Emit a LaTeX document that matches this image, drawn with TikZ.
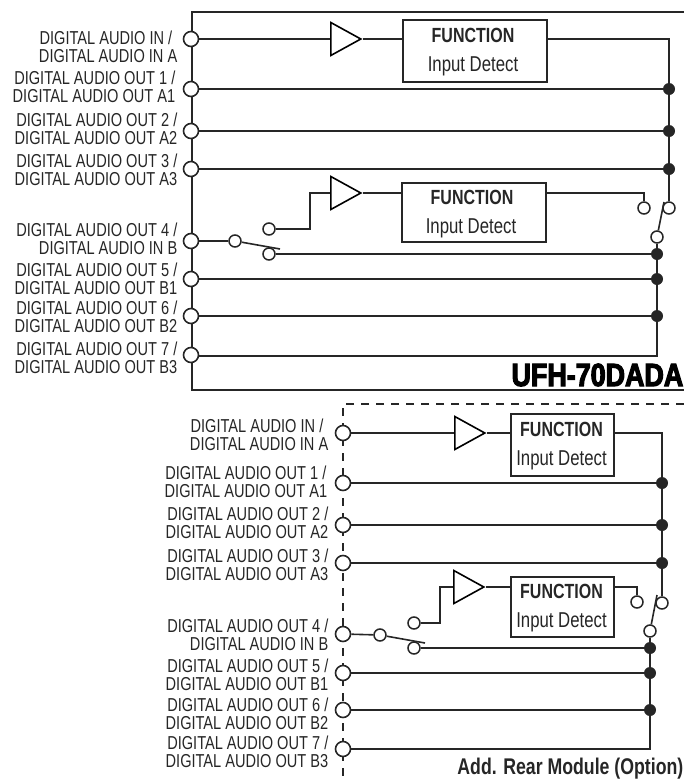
\documentclass[tikz,border=0pt]{standalone}
\usepackage{fontspec}
\setmainfont[FakeStretch=.78]{Liberation Sans}
\newfontfamily\heavyfont[FakeStretch=.84,FakeBold=3.5]{Liberation Sans Bold}
\usetikzlibrary{shapes.geometric}
\colorlet{inkline}{black!85}
\tikzset{
	wire/.style={draw=inkline,line width=1.6pt},
	frameline/.style={draw=inkline,line width=1.7pt},
	dashline/.style={draw=inkline,line width=1.6pt,dash pattern=on 8pt off 7pt},
	portlabel/.style={anchor=east,align=right,inner sep=0pt,text=inkline,font=\fontsize{18.7}{17.6}\selectfont},
	port/.style={circle,draw=inkline,fill=white,line width=1.6pt,minimum size=15pt,inner sep=0pt},
	contact/.style={circle,draw=inkline,fill=white,line width=1.5pt,minimum size=12pt,inner sep=0pt},
	joint/.style={circle,fill=inkline,minimum size=12pt,inner sep=0pt},
	amp/.style={isosceles triangle,isosceles triangle stretches,draw=black,fill=white,line width=1.6pt,minimum width=33pt,minimum height=30pt,inner sep=0pt,anchor=lower side},
	funcbox/.style={draw=inkline,fill=white,line width=1.5pt,inner sep=0pt,anchor=north west},
	functitle/.style={inner sep=0pt,text=inkline,font=\fontsize{20.5}{21}\selectfont\bfseries},
	funcsub/.style={inner sep=0pt,text=inkline,font=\fontsize{21.5}{22}\selectfont}
}
\begin{document}
\begin{tikzpicture}[x=1pt,y=-1pt]
	\useasboundingbox (0,0) rectangle (684,782);
	% main frame
		\draw[frameline] (684,12) -- (192,12) -- (192,390) -- (684,390);
	% option module frame
		\draw[dashline] (684,404) -- (343,404) -- (343,782);
	% labels main
		\foreach \y/\txt in {
			47/{DIGITAL AUDIO IN /\kern5pt\null\\DIGITAL AUDIO IN A},
			87/{DIGITAL AUDIO OUT 1 /\kern2pt\null\\DIGITAL AUDIO OUT A1\kern2pt\null},
			129/{DIGITAL AUDIO OUT 2 /\\DIGITAL AUDIO OUT A2},
			170/{DIGITAL AUDIO OUT 3 /\\DIGITAL AUDIO OUT A3},
			239/{DIGITAL AUDIO OUT 4 /\\DIGITAL AUDIO IN B},
			279/{DIGITAL AUDIO OUT 5 /\\DIGITAL AUDIO OUT B1},
			317/{DIGITAL AUDIO OUT 6 /\\DIGITAL AUDIO OUT B2},
			358/{DIGITAL AUDIO OUT 7 /\\DIGITAL AUDIO OUT B3}}{
				\node[portlabel] at (177.5,\y) {\txt};
				}
	% labels option
		\foreach \y/\txt in {
			435/{DIGITAL AUDIO IN /\kern5pt\null\\DIGITAL AUDIO IN A},
			482/{DIGITAL AUDIO OUT 1 /\kern2pt\null\\DIGITAL AUDIO OUT A1\kern1pt\null},
			523/{DIGITAL AUDIO OUT 2 /\\DIGITAL AUDIO OUT A2},
			565/{DIGITAL AUDIO OUT 3 /\\DIGITAL AUDIO OUT A3},
			635/{DIGITAL AUDIO OUT 4 /\\DIGITAL AUDIO IN B},
			675/{DIGITAL AUDIO OUT 5 /\\DIGITAL AUDIO OUT B1},
			714/{DIGITAL AUDIO OUT 6 /\\DIGITAL AUDIO OUT B2},
			752/{DIGITAL AUDIO OUT 7 /\\DIGITAL AUDIO OUT B3}}{
				\node[portlabel] at (328.5,\y) {\txt};
				}
	% ports
		\foreach \n/\y in {1/39,2/89,3/131,4/169,5/241,6/279,7/316,8/355}{
			\node[port] (mainport\n) at (191,\y) {};
			}
		\foreach \n/\y in {1/433,2/483,3/525,4/563,5/634,6/673,7/710,8/749}{
			\node[port] (optport\n) at (343,\y) {};
			}
	% main: upper channel
		\node[amp] (mainampa) at (330,39) {};
		\node[funcbox,minimum width=144pt,minimum height=62pt] (mainfunca) at (402,19) {};
		\node[functitle] (mainfunctitlea) at (473,35) {FUNCTION};
		\node[funcsub] (mainfuncsuba) at (473,66) {Input Detect};
		\coordinate (maincornera) at (669,39);
		\node[joint] (mainjoint2) at (669,89) {};
		\node[joint] (mainjoint3) at (669,131) {};
		\node[joint] (mainjoint4) at (669,169) {};
		\draw[wire] (mainport1) -- (mainampa.lower side);
		\draw[wire] (mainampa.apex) -- (mainfunca.west |- mainampa.apex);
		\draw[wire] (mainfunca.east |- maincornera) -- (maincornera) -- (mainjoint2);
		\foreach \x in {2,3,4}{
			\draw[wire] (mainport\x) -- (mainjoint\x);
			}
		\draw[wire] (mainjoint2) -- (mainjoint3);
		\draw[wire] (mainjoint3) -- (mainjoint4);
	% main: lower channel
		\node[amp] (mainampb) at (330,193) {};
		\node[funcbox,minimum width=144pt,minimum height=59pt] (mainfuncb) at (401,182) {};
		\node[functitle] (mainfunctitleb) at (472,197) {FUNCTION};
		\node[funcsub] (mainfuncsubb) at (471,228) {Input Detect};
		\node[contact] (mainpole) at (235,241) {};
		\node[contact] (mainthrowa) at (269,229) {};
		\node[contact] (mainthrowb) at (269,254) {};
		\node[contact] (mainthrowc) at (644,208) {};
		\node[contact] (mainthrowd) at (669,208) {};
		\node[contact] (mainpoleb) at (657,237) {};
		\node[joint] (mainjoint5) at (657,254) {};
		\node[joint] (mainjoint6) at (657,279) {};
		\node[joint] (mainjoint7) at (657,316) {};
		\coordinate (mainarm) at (280,249);
		\coordinate (mainarmb) at (664,202);
		\coordinate (mainstepa) at (310,229);
		\coordinate (mainstepb) at (310,193);
		\coordinate (maincornerb) at (644,193);
		\coordinate (maincornerc) at (657,356);
		\draw[wire] (mainport5) -- (mainpole);
		\draw[wire] (mainpole) -- (mainarm);
		\draw[wire] (mainthrowa) -- (mainstepa) -- (mainstepb) -- (mainampb.lower side);
		\draw[wire] (mainampb.apex) -- (mainfuncb.west |- mainampb.apex);
		\draw[wire] (mainfuncb.east |- maincornerb) -- (maincornerb) -- (mainthrowc);
		\draw[wire] (mainjoint4) -- (mainthrowd);
		\draw[wire] (mainpoleb) -- (mainarmb);
		\draw[wire] (mainthrowb) -- (mainjoint5);
		\draw[wire] (mainport6) -- (mainjoint6);
		\draw[wire] (mainport7) -- (mainjoint7);
		\draw[wire] (mainpoleb) -- (mainjoint5);
		\draw[wire] (mainjoint5) -- (mainjoint6);
		\draw[wire] (mainjoint6) -- (mainjoint7);
		\draw[wire] (mainjoint7) -- (maincornerc) -- (mainport8.east |- maincornerc);
	% option: upper channel
		\node[amp] (optampa) at (454,433) {};
		\node[funcbox,minimum width=103pt,minimum height=62pt] (optfunca) at (510,413) {};
		\node[functitle] (optfunctitlea) at (561.5,429) {FUNCTION};
		\node[funcsub] (optfuncsuba) at (561.5,460) {Input Detect};
		\coordinate (optcornera) at (662,433);
		\node[joint] (optjoint2) at (662,483) {};
		\node[joint] (optjoint3) at (662,525) {};
		\node[joint] (optjoint4) at (662,563) {};
		\draw[wire] (optport1) -- (optampa.lower side);
		\draw[wire] (optampa.apex) -- (optfunca.west |- optampa.apex);
		\draw[wire] (optfunca.east |- optcornera) -- (optcornera) -- (optjoint2);
		\foreach \x in {2,3,4}{
			\draw[wire] (optport\x) -- (optjoint\x);
			}
		\draw[wire] (optjoint2) -- (optjoint3);
		\draw[wire] (optjoint3) -- (optjoint4);
	% option: lower channel
		\node[amp] (optampb) at (453,587) {};
		\node[funcbox,minimum width=103pt,minimum height=60pt] (optfuncb) at (510,576) {};
		\node[functitle] (optfunctitleb) at (561.5,591) {FUNCTION};
		\node[funcsub] (optfuncsubb) at (561.5,622) {Input Detect};
		\node[contact] (optpole) at (380,635) {};
		\node[contact] (optthrowa) at (414,623) {};
		\node[contact] (optthrowb) at (414,648) {};
		\node[contact] (optthrowc) at (637,602) {};
		\node[contact] (optthrowd) at (662,603) {};
		\node[contact] (optpoleb) at (650,631) {};
		\node[joint] (optjoint5) at (650,648) {};
		\node[joint] (optjoint6) at (650,673) {};
		\node[joint] (optjoint7) at (650,710) {};
		\coordinate (optarm) at (425,643);
		\coordinate (optarmb) at (657,595);
		\coordinate (optstepa) at (440,623);
		\coordinate (optstepb) at (440,587);
		\coordinate (optcornerb) at (637,587);
		\coordinate (optcornerc) at (650,749);
		\draw[wire] (optport5) -- (optpole);
		\draw[wire] (optpole) -- (optarm);
		\draw[wire] (optthrowa) -- (optstepa) -- (optstepb) -- (optampb.lower side);
		\draw[wire] (optampb.apex) -- (optfuncb.west |- optampb.apex);
		\draw[wire] (optfuncb.east |- optcornerb) -- (optcornerb) -- (optthrowc);
		\draw[wire] (optjoint4) -- (optthrowd);
		\draw[wire] (optpoleb) -- (optarmb);
		\draw[wire] (optthrowb) -- (optjoint5);
		\draw[wire] (optport6) -- (optjoint6);
		\draw[wire] (optport7) -- (optjoint7);
		\draw[wire] (optpoleb) -- (optjoint5);
		\draw[wire] (optjoint5) -- (optjoint6);
		\draw[wire] (optjoint6) -- (optjoint7);
		\draw[wire] (optjoint7) -- (optcornerc) -- (optport8);
	% titles
		\node[anchor=base east,inner sep=0pt,text=black] (maintitle) at (683.5,386) {\heavyfont\fontsize{32}{33}\selectfont UFH-70DADA};
		\node[anchor=base east,inner sep=0pt,text=inkline,font=\fontsize{22.7}{23}\selectfont\bfseries] (opttitle) at (683.5,774) {Add. Rear Module (Option)};
\end{tikzpicture}
\end{document}
